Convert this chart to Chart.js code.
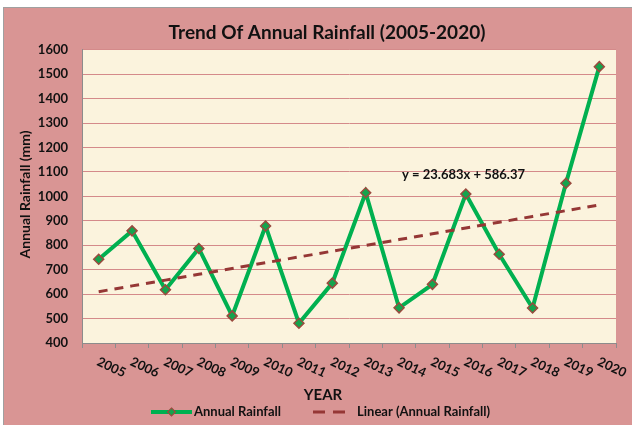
<!DOCTYPE html>
<html>
<head>
<meta charset="utf-8">
<title>Trend Of Annual Rainfall</title>
<script src="https://cdn.jsdelivr.net/npm/chart.js@4/dist/chart.umd.min.js"></script>
<style>
	html, body {
		margin: 0;
		padding: 0;
		background: #ffffff;
	}

	#frame {
		position: absolute;
		left: 3px;
		top: 7px;
		width: 628px;
		height: 417px;
		border-left: 1px solid #a0a0a0;
		border-top: 1px solid #a0a0a0;
		background: #D99594;
	}

	#rainChart {
		display: block;
	}
</style>
</head>
<body>
<div id="frame">
	<canvas id="rainChart" width="628" height="417"></canvas>
</div>

<script>
	// rainfall per year (mm)
	var years = ['2005', '2006', '2007', '2008', '2009', '2010', '2011', '2012',
		'2013', '2014', '2015', '2016', '2017', '2018', '2019', '2020'];
	var rainfall = [743, 859, 618, 787, 511, 879, 481, 645,
		1015, 544, 640, 1010, 763, 543, 1054, 1531];

	// linear trendline y = a*x + b, x = 1 for the first year
	var trendSlope = 23.683;
	var trendIntercept = 586.37;

	// y axis range
	var yMin = 400;
	var yMax = 1600;
	var yStep = 100;

	var trend = years.map(function (y, i) {
		return trendSlope * (i + 1) + trendIntercept;
	});

	var green = '#00B050';
	var markerFill = '#14A44D';
	var markerEdge = '#9A4A3E';
	var darkRed = '#953735';
	var ink = '#111111';
	var FONT = 'Lato, "Open Sans", sans-serif';

	function diamond(ctx, x, y, r) {
		ctx.beginPath();
		ctx.moveTo(x, y - r);
		ctx.lineTo(x + r, y);
		ctx.lineTo(x, y + r);
		ctx.lineTo(x - r, y);
		ctx.closePath();
		ctx.fill();
		ctx.stroke();
	}

	// legend under the axis title
	function drawLegend(ctx, chart) {
		var y = chart.height - 13;
		var x = chart.width / 2 - 167;

		ctx.save();
		ctx.lineCap = 'butt';
		ctx.strokeStyle = green;
		ctx.lineWidth = 4;
		ctx.beginPath();
		ctx.moveTo(x, y);
		ctx.lineTo(x + 41, y);
		ctx.stroke();
		ctx.fillStyle = markerFill;
		ctx.strokeStyle = markerEdge;
		ctx.lineWidth = 1.2;
		diamond(ctx, x + 20.5, y, 4);

		ctx.fillStyle = ink;
		ctx.font = 'bold 13px ' + FONT;
		ctx.textAlign = 'left';
		ctx.textBaseline = 'middle';
		ctx.fillText(chart.data.datasets[0].label, x + 43, y);

		var x2 = x + 162;
		ctx.strokeStyle = darkRed;
		ctx.lineWidth = 3;
		ctx.beginPath();
		ctx.moveTo(x2, y);
		ctx.lineTo(x2 + 12, y);
		ctx.moveTo(x2 + 20, y);
		ctx.lineTo(x2 + 32, y);
		ctx.stroke();
		ctx.fillText(chart.data.datasets[1].label, x2 + 44, y);
		ctx.restore();
	}

	var extras = {
		id: 'extras',
		beforeDraw: function (chart) {
			var a = chart.chartArea;
			var ctx = chart.ctx;
			ctx.save();
			ctx.fillStyle = '#FBF3DD';
			ctx.fillRect(a.left, a.top, a.right - a.left, a.bottom - a.top);
			ctx.restore();
		},
		afterDraw: function (chart) {
			var ctx = chart.ctx;
			var a = chart.chartArea;
			var xs = chart.scales.x;
			var ys = chart.scales.y;

			ctx.save();
			ctx.fillStyle = ink;

			// slanted year labels
			ctx.font = 'bold 13px ' + FONT;
			ctx.textAlign = 'left';
			ctx.textBaseline = 'middle';
			for (var i = 0; i < xs.ticks.length; i++) {
				ctx.save();
				ctx.translate(xs.getPixelForTick(i) - 1, a.bottom + 18);
				ctx.rotate(25 * Math.PI / 180);
				ctx.fillText(xs.getLabelForValue(xs.ticks[i].value), 0, 0);
				ctx.restore();
			}

			// axis titles
			ctx.textAlign = 'center';
			ctx.font = 'bold 15px ' + FONT;
			ctx.fillText('YEAR', chart.width / 2 + 5, a.bottom + 52);

			ctx.save();
			ctx.translate(21, (a.top + a.bottom) / 2 - 2);
			ctx.rotate(-Math.PI / 2);
			ctx.font = 'bold 14px ' + FONT;
			ctx.fillText('Annual Rainfall (mm)', 0, 0);
			ctx.restore();

			// trendline equation
			ctx.textAlign = 'left';
			ctx.font = 'bold 13px ' + FONT;
			ctx.fillText('y = ' + trendSlope + 'x + ' + trendIntercept,
				xs.getPixelForValue(9) + 3, ys.getPixelForValue(1088));

			ctx.restore();

			drawLegend(ctx, chart);
		}
	};

	var ctx = document.getElementById('rainChart');
	var rainChart = new Chart(ctx, {
		type: 'line',
		data: {
			labels: years,
			datasets: [{
				label: 'Annual Rainfall',
				data: rainfall,
				borderColor: green,
				borderWidth: 4,
				tension: 0,
				pointStyle: 'rectRot',
				pointRadius: 5,
				pointBackgroundColor: markerFill,
				pointBorderColor: markerEdge,
				pointBorderWidth: 1.5,
				order: 1
			}, {
				label: 'Linear (Annual Rainfall)',
				data: trend,
				borderColor: darkRed,
				borderWidth: 3,
				borderDash: [9, 7],
				pointRadius: 0,
				tension: 0,
				order: 0
			}]
		},
		options: {
			responsive: false,
			animation: false,
			layout: {
				padding: { left: 34, right: 16, top: 0, bottom: 0 }
			},
			plugins: {
				tooltip: { enabled: false },
				legend: { display: false },
				title: {
					display: true,
					text: 'Trend Of Annual Rainfall (2005-2020)',
					color: ink,
					font: { family: FONT, size: 19, weight: 'bold' },
					padding: { top: 13, bottom: 6 }
				}
			},
			scales: {
				x: {
					offset: true,
					afterFit: function (scale) {
						scale.height = 82;
					},
					grid: {
						offset: true,
						drawOnChartArea: false,
						drawTicks: true,
						tickLength: 5,
						tickColor: '#8c8c8c'
					},
					border: { color: '#8c8c8c', width: 1 },
					ticks: { display: false }
				},
				y: {
					min: yMin,
					max: yMax,
					afterFit: function (scale) {
						scale.width = 44;
					},
					grid: {
						color: '#D48A8A',
						lineWidth: 1,
						drawTicks: false
					},
					border: { color: '#8c8c8c', width: 1 },
					ticks: {
						stepSize: yStep,
						padding: 14,
						color: ink,
						font: { family: FONT, size: 13, weight: 'bold' },
						callback: function (value) {
							return String(value);
						}
					}
				}
			}
		},
		plugins: [extras]
	});
</script>
</body>
</html>
